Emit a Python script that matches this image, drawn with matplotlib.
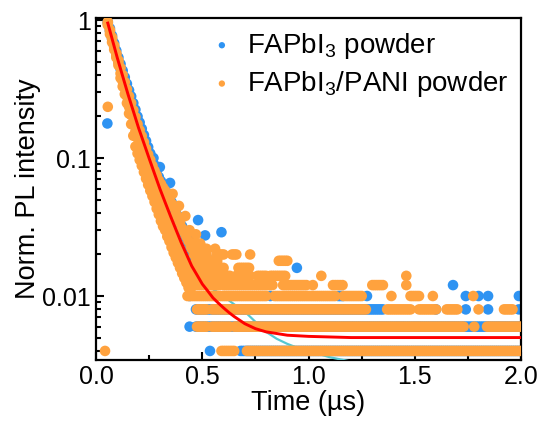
import numpy as np
import matplotlib
matplotlib.use("Agg")
import matplotlib.pyplot as plt
from matplotlib.ticker import MultipleLocator, LogLocator, NullFormatter

plt.rcParams['font.family'] = ['Liberation Sans', 'DejaVu Sans']
plt.rcParams['mathtext.fontset'] = 'custom'
plt.rcParams['mathtext.rm'] = 'Liberation Sans'
plt.rcParams['mathtext.default'] = 'regular'

# ---- decay part, read along the band (time in us) ----
t_decay = [0.055, 0.065, 0.075, 0.085, 0.095, 0.105, 0.115, 0.125, 0.135, 0.145,
           0.155, 0.165, 0.175, 0.185, 0.195, 0.205, 0.215, 0.225, 0.235, 0.245,
           0.255, 0.265, 0.275, 0.285, 0.295, 0.305, 0.315, 0.325, 0.335, 0.345,
           0.355, 0.365, 0.375, 0.385, 0.395, 0.405, 0.415, 0.425, 0.435, 0.445]
pani_lo = [0.92, 0.79, 0.69, 0.61, 0.535, 0.47, 0.38, 0.33, 0.29, 0.25,
           0.21, 0.176, 0.145, 0.121, 0.108, 0.097, 0.088, 0.079, 0.071, 0.064,
           0.058, 0.053, 0.048, 0.043, 0.039, 0.035, 0.032, 0.030, 0.027, 0.025,
           0.0226, 0.0206, 0.019, 0.0174, 0.016, 0.0146, 0.0135, 0.0125, 0.0115, 0.0107]
pani_mid = [0.95, 0.83, 0.73, 0.64, 0.56, 0.49, 0.41, 0.36, 0.32, 0.28,
            0.235, 0.205, 0.178, 0.156, 0.139, 0.126, 0.114, 0.102, 0.092, 0.083,
            0.075, 0.068, 0.062, 0.056, 0.050, 0.048, 0.044, 0.041, 0.037, 0.034,
            0.031, 0.028, 0.026, 0.024, 0.022, 0.020, 0.0185, 0.017, 0.016, 0.0146]
pani_hi = [0.97, 0.85, 0.75, 0.655, 0.575, 0.51, 0.45, 0.40, 0.355, 0.315,
           0.28, 0.25, 0.222, 0.198, 0.176, 0.159, 0.144, 0.13, 0.117, 0.106,
           0.097, 0.088, 0.081, 0.075, 0.069, 0.065, 0.061, 0.058, 0.054, 0.050,
           0.047, 0.044, 0.040, 0.037, 0.034, 0.031, 0.029, 0.027, 0.025, 0.023]
pure_mid = [0.95, 0.834, 0.733, 0.644, 0.566, 0.499, 0.442, 0.392, 0.347, 0.308,
            0.274, 0.245, 0.219, 0.195, 0.174, 0.157, 0.142, 0.128, 0.115, 0.104,
            0.094, 0.085, 0.077, 0.070, 0.063, 0.057, 0.052, 0.048, 0.0436, 0.0398,
            0.0364, 0.0333, 0.0305, 0.0280, 0.0256, 0.0235, 0.0217, 0.0201, 0.0186, 0.0172]
pure_hi = [0.97, 0.87, 0.77, 0.68, 0.60, 0.535, 0.48, 0.43, 0.385, 0.345,
           0.31, 0.28, 0.25, 0.224, 0.20, 0.181, 0.163, 0.147, 0.133, 0.12,
           0.108, 0.098, 0.089, 0.081, 0.073, 0.068, 0.063, 0.059, 0.055, 0.051,
           0.048, 0.044, 0.041, 0.038, 0.035, 0.032, 0.030, 0.028, 0.026, 0.024]

# single points (rising edge, outliers)
pure_extra_t = [0.053, 0.27, 0.30, 0.348, 0.48, 0.513, 0.54, 0.55, 0.56, 0.59]
pure_extra_y = [0.178, 0.10, 0.086, 0.066, 0.0355, 0.0275, 0.018, 0.0176, 0.018, 0.029]
pani_extra_t = [0.055, 0.36, 0.39, 0.42, 0.44, 0.47]
pani_extra_y = [0.235, 0.055, 0.045, 0.038, 0.030, 0.028]

# ---- count floor: level -> runs of channels (start, end) ----
pani_rows = {
    0.004: [(0.042, 0.042), (0.59, 0.65), (0.71, 2.0)],
    0.006: [(0.475, 0.52), (0.545, 0.63), (0.65, 1.73), (1.78, 1.78), (1.84, 2.0)],
    0.008: [(0.475, 0.52), (0.545, 1.27), (1.37, 1.48), (1.52, 1.60), (1.65, 1.70),
            (1.80, 1.80), (1.92, 1.96)],
    0.010: [(0.43, 0.50), (0.51, 0.80), (0.84, 1.125), (1.165, 1.25), (1.39, 1.39),
            (1.48, 1.52), (1.585, 1.585), (1.775, 1.775)],
    0.012: [(0.46, 0.58), (0.60, 0.83), (0.88, 0.99), (1.02, 1.02), (1.115, 1.16),
            (1.30, 1.35), (1.46, 1.46)],
    0.014: [(0.45, 0.63), (0.66, 0.725), (0.76, 0.80), (0.82, 0.89), (1.06, 1.06),
            (1.46, 1.46)],
    0.016: [(0.45, 0.60), (0.67, 0.72)],
    0.018: [(0.47, 0.57), (0.86, 0.90)],
    0.020: [(0.46, 0.52), (0.57, 0.60), (0.64, 0.66), (0.725, 0.725)],
    0.022: [(0.45, 0.52), (0.56, 0.56)],
    0.024: [(0.45, 0.49)],
}
pure_rows = {
    0.004: [(0.536, 0.536), (0.68, 2.0)],
    0.006: [(0.44, 0.44), (0.47, 2.0)],
    0.008: [(0.47, 1.35), (1.60, 1.60), (1.74, 1.74), (1.845, 1.845), (1.99, 1.99)],
    0.010: [(0.44, 0.44), (0.82, 0.82), (1.14, 1.16), (1.275, 1.275), (1.74, 1.74),
            (1.80, 1.80), (1.845, 1.845), (1.99, 1.99)],
    0.012: [(0.44, 0.44), (1.68, 1.68)],
    0.016: [(0.945, 0.945)],
}

# ---- fitted curves ----
fit_t = [0.055, 0.08, 0.10, 0.125, 0.15, 0.175, 0.20, 0.225, 0.25, 0.275, 0.30,
         0.325, 0.35, 0.375, 0.40, 0.425, 0.45, 0.475, 0.50, 0.525, 0.55, 0.575,
         0.60, 0.625, 0.65, 0.70, 0.75, 0.80, 0.85, 0.90, 0.95, 1.0, 1.1, 1.2,
         1.3, 1.4, 1.6, 1.8, 2.0]
pani_fit = [0.95, 0.687, 0.53, 0.392, 0.29, 0.219, 0.165, 0.128, 0.099, 0.077, 0.060,
            0.0477, 0.038, 0.0305, 0.0245, 0.0201, 0.0165, 0.0142, 0.0122, 0.0109, 0.0097,
            0.0089, 0.0082, 0.0076, 0.0071, 0.0063, 0.0058, 0.0055, 0.00535, 0.0052,
            0.00515, 0.0051, 0.00505, 0.0050, 0.0050, 0.0050, 0.0050, 0.0050, 0.0050]
pure_fit = [0.95, 0.687, 0.53, 0.392, 0.29, 0.219, 0.165, 0.128, 0.099, 0.077, 0.060,
            0.0477, 0.038, 0.0305, 0.0245, 0.0201, 0.0168, 0.0150, 0.0133, 0.0121, 0.0112,
            0.0106, 0.0100, 0.0093, 0.0087, 0.0077, 0.0065, 0.0055, 0.0049, 0.0045,
            0.0042, 0.0040, 0.0036, 0.00335, 0.0032, 0.0031, 0.0030, 0.0029, 0.0028]

blue = '#2E93F2'
orange = '#FFA23E'
cyan = '#55C8D2'


def expand(rows, step=0.01):
    xs, ys = [], []
    for level, runs in rows.items():
        for a, b in runs:
            n = int(round((b - a) / step)) + 1
            xx = np.linspace(a, b, n)
            xs.extend(xx)
            ys.extend([level] * n)
    return xs, ys


pure_x, pure_y = expand(pure_rows)
pani_x, pani_y = expand(pani_rows)
pure_x = list(t_decay) * 2 + pure_extra_t + pure_x
pure_y = pure_mid + pure_hi + pure_extra_y + pure_y
pani_x = list(t_decay) * 3 + pani_extra_t + pani_x
pani_y = pani_lo + pani_mid + pani_hi + pani_extra_y + pani_y

fig = plt.figure(figsize=(5.43, 4.25), dpi=100)
ax = fig.add_axes([0.177, 0.153, 0.7825, 0.8046])

ax.scatter(pure_x, pure_y, s=58, color=blue, edgecolors='none',
           label='FAPbI$_3$ powder', zorder=2)
ax.plot(fit_t, pure_fit, color=cyan, lw=1.6, zorder=3)
ax.scatter(pani_x, pani_y, s=58, color=orange, edgecolors='none',
           label='FAPbI$_3$/PANI powder', zorder=4)
ax.plot(fit_t, pani_fit, color='red', lw=2.1, zorder=5)

ax.set_yscale('log')
ax.set_xlim(0, 2.0)
ax.set_ylim(0.00344, 1.034)
ax.xaxis.set_major_locator(MultipleLocator(0.5))
ax.xaxis.set_minor_locator(MultipleLocator(0.25))
ax.set_yticks([0.01, 0.1, 1])
ax.set_yticklabels(['0.01', '0.1', '1'])
ax.yaxis.set_minor_locator(LogLocator(base=10, subs=np.arange(2, 10)))
ax.yaxis.set_minor_formatter(NullFormatter())
ax.tick_params(which='both', direction='in', width=1.5, labelsize=18)
ax.tick_params(which='major', length=6)
ax.tick_params(which='minor', length=3.5)
for sp in ax.spines.values():
    sp.set_linewidth(1.6)

ax.set_xlabel('Time (µs)', fontsize=19.5, labelpad=1)
ax.set_ylabel('Norm. PL intensity', fontsize=19.5, labelpad=1)

ax.legend(loc='upper right', frameon=False, fontsize=20, markerscale=0.6,
          handletextpad=0.3, labelspacing=0.3, borderaxespad=0.05,
          handlelength=1.2)

fig.savefig('out.png', dpi=100)
